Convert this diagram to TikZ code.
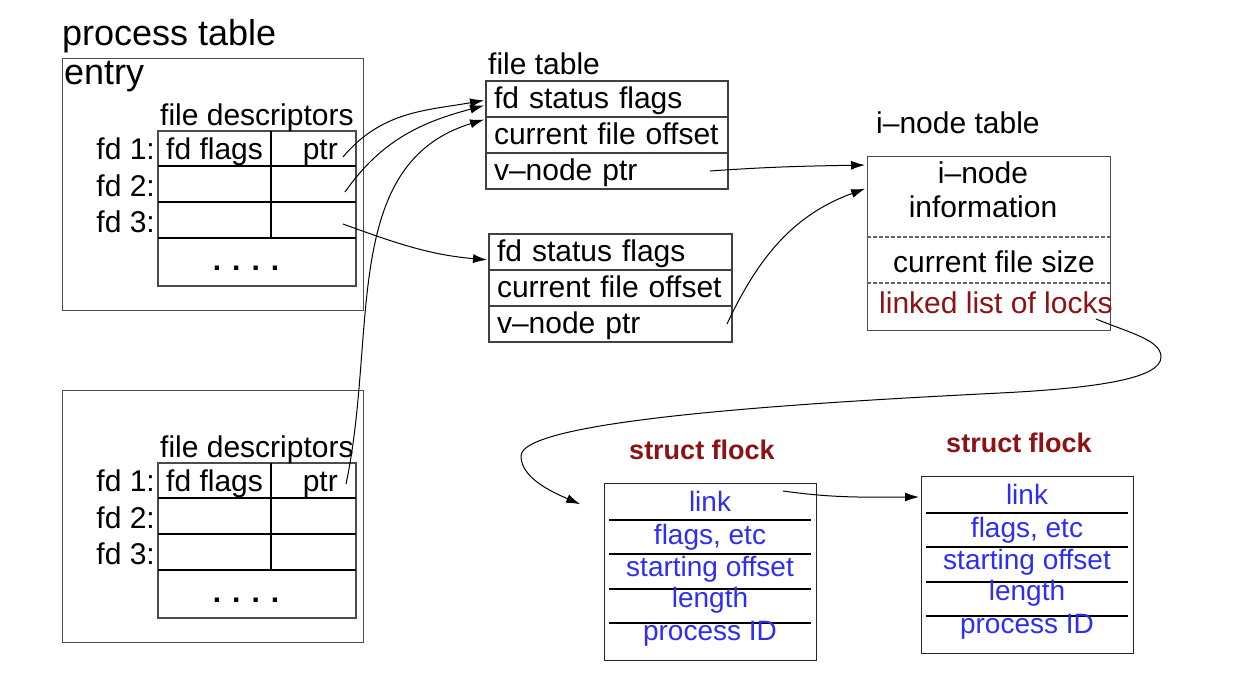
\documentclass[tikz,border=0pt]{standalone}
\usepackage{fontspec}
\setmainfont{Liberation Sans}
\usetikzlibrary{arrows.meta,positioning}
\definecolor{lockred}{RGB}{140,18,22}
\definecolor{fieldblue}{RGB}{45,45,245}

\begin{document}
\begin{tikzpicture}[x=1pt,y=-1pt,>={Latex[length=14pt,width=9pt]},
  txt/.style={inner sep=0pt,font=\fontsize{30}{34}\selectfont},
  big/.style={inner sep=0pt,font=\fontsize{36}{40}\selectfont},
  box/.style={draw=black!70,line width=1.3pt,anchor=north west,inner sep=0pt},
  filerow/.style={draw=black!75,line width=1.3pt,anchor=north west,outer sep=0pt,minimum height=36pt,text width=#1,inner xsep=8pt,inner ysep=0pt,text height=22pt,text depth=3pt,align=left,font=\fontsize{30}{34}\selectfont},
  field/.style={inner sep=0pt,anchor=base,text=fieldblue,font=\fontsize{28}{32}\selectfont},
  flocktitle/.style={inner sep=0pt,anchor=base,text=lockred,font=\bfseries\fontsize{27}{30}\selectfont},
  conn/.style={->,line width=1pt,shorten >=2pt}]
  \useasboundingbox (0,0) rectangle (1241,690);

  % process table entries
  \node[big,anchor=base west] (ptitle) at (62,46) {process table};
  \node[big,anchor=base west] (entry) at (64,85) {entry};
  \foreach \i/\dy in {1/0,2/332}{
    \node[box,minimum width=301pt,minimum height=252pt] (proc\i) at (62,58+\dy) {};
    \draw[black!70,line width=1.3pt] (158,131+\dy) rectangle (356,286+\dy);
    \draw[line width=1.2pt] (271,131+\dy) -- (271,238+\dy);
    \foreach \yy in {166,202,238}
      \draw[line width=1.2pt] (158,\yy+\dy) -- (356,\yy+\dy);
    \node[txt,anchor=base west] (fdhead\i) at (160,125+\dy) {file descriptors};
    \node[txt,anchor=base west] (flags\i) at (166,159+\dy) {fd flags};
    \node[txt,anchor=base east] (ptr\i) at (338,159+\dy) {ptr};
    \foreach \k/\yy in {1/159,2/196,3/232}
      \node[txt,anchor=base east] (fd\i\k) at (155,\yy+\dy) {fd \k:};
    \node[txt,anchor=base,font=\bfseries\fontsize{30}{34}\selectfont] (dots\i) at (246,270+\dy) {.\hspace{11pt}.\hspace{11pt}.\hspace{11pt}.};
  }

  % file table
  \node[txt,anchor=base west] (ftitle) at (488,75) {file table};
  \node[filerow=226pt] (ft1s) at (486,81) {fd status flags};
  \node[filerow=226pt,below=0pt of ft1s] (ft1o) {current file offset};
  \node[filerow=226pt,below=0pt of ft1o] (ft1v) {v--node ptr};
  \node[filerow=227pt] (ft2s) at (489,234) {fd status flags};
  \node[filerow=227pt,below=0pt of ft2s] (ft2o) {current file offset};
  \node[filerow=227pt,below=0pt of ft2o] (ft2v) {v--node ptr};

  % i-node table
  \node[txt,anchor=base west] (ititle) at (876,133) {i--node table};
  \node[box,minimum width=243pt,minimum height=174pt] (inode) at (867,156) {};
  \node[txt,anchor=base] (inodeA) at (983,183) {i--node};
  \node[txt,anchor=base] (inodeB) at (983,217) {information};
  \draw[black!60,line width=1.2pt,dash pattern=on 4pt off 2pt] (867,237) -- (1110,237);
  \draw[black!60,line width=1.2pt,dash pattern=on 4pt off 2pt] (867,283) -- (1110,283);
  \node[txt,anchor=base west] (fsize) at (893,272) {current file size};
  \node[txt,anchor=base west,text=lockred] (locks) at (879,313) {linked list of locks};

  % struct flock
  \foreach \i/\x/\y in {1/604/483,2/921/476}{
    \node[box,draw=black!85,minimum width=212pt,minimum height=177pt] (fl\i) at (\x,\y) {};
    \node[flocktitle] (flt\i) at (\x+98,\y-24) {struct flock};
    \foreach \dl in {37,71,106,140}
      \draw[line width=1.2pt] (\x+5,\y+\dl) -- (\x+207,\y+\dl);
    \foreach \dt/\t [count=\k] in {28/link,61/{flags, etc},93/starting offset,124/length,157/process ID}
      \node[field] (field\i\k) at (\x+106,\y+\dt) {\t};
  }

  % connectors
  \coordinate (src11) at (343,157);
  \coordinate (src12) at (345,192);
  \coordinate (src13) at (343,224);
  \coordinate (src21) at (346,484);
  \coordinate (lockout) at (1096,319);
  \coordinate (linkout) at (783,491);
  \coordinate (bend1) at (1161,357);
  \coordinate (bend2) at (1000,393);
  \coordinate (bend3) at (521,456);

  \path[conn]
    (src11) edge[out=50,in=190] ([yshift=-1pt]ft1s.west)
    (src12) edge[out=55,in=195] ([yshift=-6pt]ft1s.west)
    (src13) edge[out=-20,in=175] ([yshift=-8pt]ft2s.west)
    (src21) edge[out=78,in=197] ([yshift=16pt]ft1o.west)
    ([xshift=-18pt]ft1v.east) edge[out=4,in=181] ([yshift=-9pt]inode.north west)
    ([xshift=-5pt]ft2v.east) edge[out=65,in=200] ([yshift=-32pt]inode.north west)
    (linkout) edge[out=-8,in=180] ([yshift=-21pt]fl2.north west);
  \draw[conn] (lockout) .. controls (1130,333) and (1161,340) .. (bend1)
    .. controls (1161,378) and (1100,388) .. (bend2)
    .. controls (800,403) and (521,420) .. (bend3)
    .. controls (521,478) and (552,492) .. ([xshift=-22pt,yshift=-22pt]fl1.north west);
\end{tikzpicture}
\end{document}
